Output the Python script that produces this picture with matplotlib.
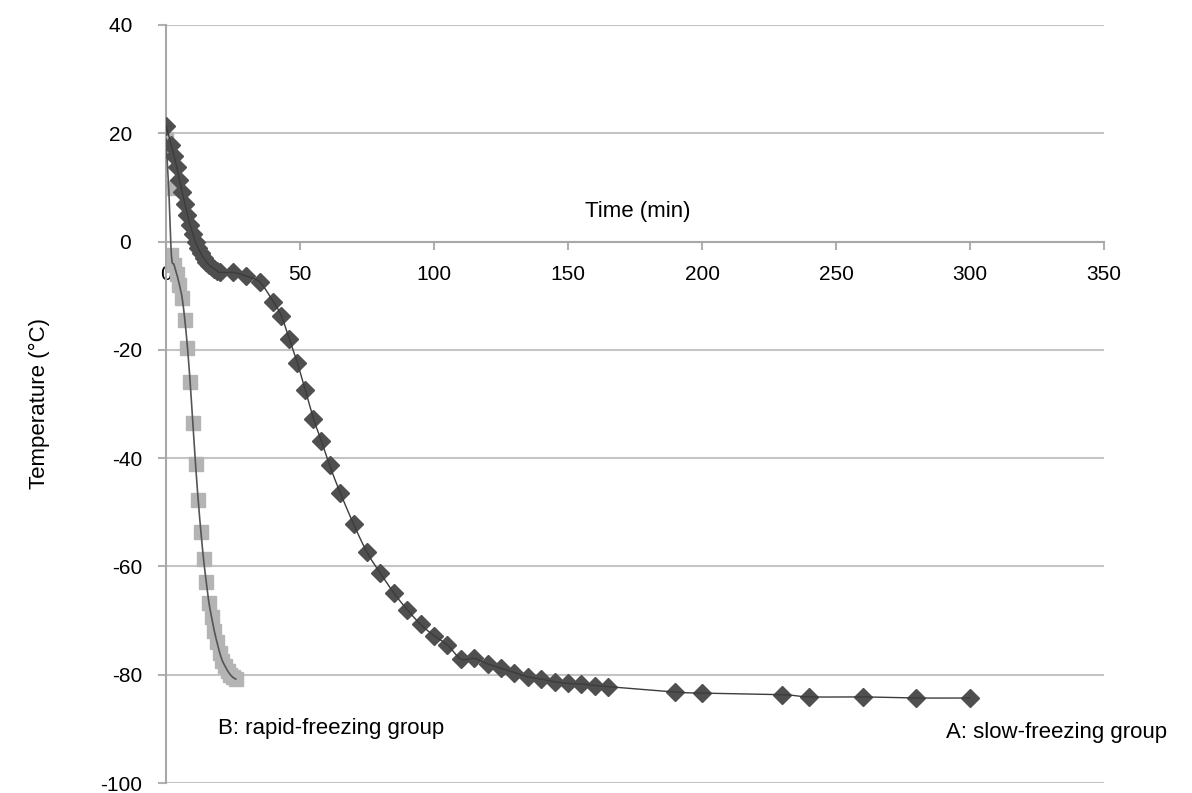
import matplotlib.pyplot as plt
import numpy as np

plt.rcParams['font.family'] = ['Liberation Sans', 'DejaVu Sans']
plt.rcParams['axes.unicode_minus'] = False

# A: slow-freezing group
time_a = [0, 2, 3, 4, 5, 6, 7, 8, 9, 10, 11, 12, 13, 14, 15, 16, 17, 18, 19, 20,
          25, 30, 35, 40, 43, 46, 49, 52, 55, 58, 61, 65, 70, 75, 80, 85, 90, 95, 100,
          105, 110, 115, 120, 125, 130, 135, 140, 145, 150, 155, 160, 165,
          190, 200, 230, 240, 260, 280, 300]
temp_a = [21.4, 17.8, 15.8, 13.7, 11.4, 9.2, 7.0, 4.9, 3.0, 1.4, -0.1, -1.2, -2.2,
          -3.0, -3.7, -4.3, -4.7, -5.1, -5.4, -5.7,
          -5.7, -6.4, -7.5, -11.1, -13.7, -18.0, -22.4, -27.5, -32.7, -36.9, -41.3,
          -46.4, -52.2, -57.4, -61.3, -64.9, -68.0, -70.7, -72.8,
          -74.5, -77.1, -77.0, -78.0, -78.8, -79.6, -80.4, -80.8, -81.3, -81.6, -81.7,
          -82.0, -82.2,
          -83.2, -83.4, -83.7, -84.1, -84.1, -84.3, -84.3]

# B: rapid-freezing group
time_b = list(range(27))
temp_b = [19.0, 9.9, -2.5, -4.3, -6.0, -8.0, -10.4, -14.4, -19.6, -26.0, -33.6, -41.1,
          -47.8, -53.6, -58.7, -62.9, -66.7, -69.4, -71.9, -74.0, -75.9, -77.4, -78.4,
          -79.3, -80.0, -80.5, -80.8]

y_ticks = [-100, -80, -60, -40, -20, 0, 20, 40]
x_ticks = [0, 50, 100, 150, 200, 250, 300, 350]


def smooth(x, y, n=12):
    # Catmull-Rom curve through the points, like the spreadsheet's smoothed line
    x = np.asarray(x, float)
    y = np.asarray(y, float)
    px = np.concatenate([[2 * x[0] - x[1]], x, [2 * x[-1] - x[-2]]])
    py = np.concatenate([[2 * y[0] - y[1]], y, [2 * y[-1] - y[-2]]])
    s = np.linspace(0, 1, n, endpoint=False)
    xs, ys = [], []
    for i in range(1, len(px) - 2):
        for p, out in ((px, xs), (py, ys)):
            p0, p1, p2, p3 = p[i - 1], p[i], p[i + 1], p[i + 2]
            out.extend(0.5 * (2 * p1 + (-p0 + p2) * s
                              + (2 * p0 - 5 * p1 + 4 * p2 - p3) * s ** 2
                              + (-p0 + 3 * p1 - 3 * p2 + p3) * s ** 3))
    xs.append(x[-1])
    ys.append(y[-1])
    return np.array(xs), np.array(ys)


fig = plt.figure(figsize=(11.92, 7.93), dpi=100)
ax = fig.add_axes([0.1393, 0.0126, 0.7869, 0.9559])

ax.plot(time_b, temp_b, 's', color='#b4b4b4', markersize=9.5, zorder=2)
xb, yb = smooth(time_b, temp_b)
ax.plot(xb, yb, '-', color='#555555', linewidth=1.2, zorder=3)

xa, ya = smooth(time_a, temp_a)
ax.plot(time_a, temp_a, 'D', color='#4f4f4f', markersize=9, zorder=4)
ax.plot(xa, ya, '-', color='#3c3c3c', linewidth=1.0, zorder=5)

ax.set_xlim(0, 350)
ax.set_ylim(-100, 40)
ax.set_xticks(x_ticks)
ax.set_yticks(y_ticks)
# positive labels keep a trailing gap, as in the spreadsheet number format
ax.set_yticklabels([str(v) if v < 0 else str(v) + '\u2002' for v in y_ticks])

ax.yaxis.grid(True, color='#c4c4c4', linewidth=1.5)
ax.set_axisbelow(True)
for side in ['top', 'right']:
    ax.spines[side].set_visible(False)
ax.spines['bottom'].set_position(('data', 0))
for side in ['bottom', 'left']:
    ax.spines[side].set_color('#a8a8a8')
    ax.spines[side].set_linewidth(1.5)
ax.tick_params(axis='both', colors='#b0b0b0', labelcolor='black', labelsize=15,
               length=6, width=1.5)
ax.tick_params(axis='x', pad=11)
ax.tick_params(axis='y', pad=11)

ax.text(176, 5.5, 'Time (min)', fontsize=16, ha='center', va='center')
ax.set_ylabel('Temperature (°C)', fontsize=16, labelpad=36)
ax.text(19.4, -89.9, 'B: rapid-freezing group', fontsize=16, ha='left', va='center')
ax.text(291, -90.6, 'A: slow-freezing group', fontsize=16, ha='left', va='center')

fig.savefig('out.png', dpi=100)
